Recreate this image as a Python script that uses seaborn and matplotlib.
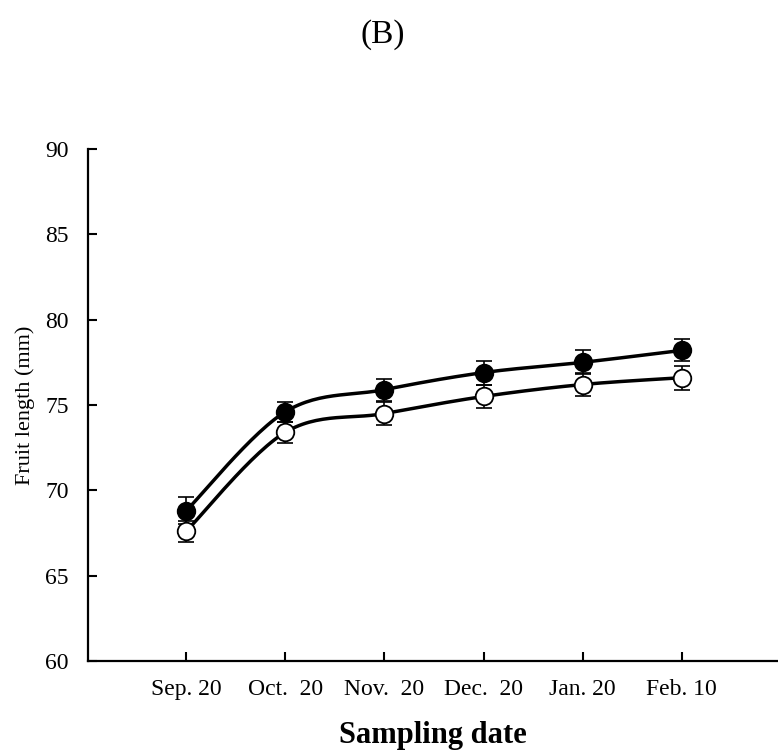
import numpy as np
import pandas as pd
import matplotlib
matplotlib.use("Agg")
import matplotlib.pyplot as plt
import seaborn as sns

# Values
dates = ["Sep. 20", "Oct.  20", "Nov.  20", "Dec.  20", "Jan. 20", "Feb. 10"]
filled_mean = [68.8, 74.6, 75.9, 76.9, 77.5, 78.2]
filled_err = [0.8, 0.6, 0.65, 0.7, 0.7, 0.65]
open_mean = [67.6, 73.4, 74.5, 75.5, 76.2, 76.6]
open_err = [0.6, 0.6, 0.65, 0.65, 0.65, 0.7]


def smooth_curve(y, steps=30):
    # Catmull-Rom style bezier through the points (like a spreadsheet "smoothed line")
    x = np.arange(len(y), dtype=float)
    y = np.asarray(y, dtype=float)
    px = np.concatenate([[x[0]], x, [x[-1]]])
    py = np.concatenate([[y[0]], y, [y[-1]]])
    xs, ys = [], []
    t = np.linspace(0, 1, steps)
    for i in range(1, len(px) - 2):
        p0 = np.array([px[i], py[i]])
        p3 = np.array([px[i + 1], py[i + 1]])
        p1 = p0 + (p3 - np.array([px[i - 1], py[i - 1]])) / 6
        p2 = p3 - (np.array([px[i + 2], py[i + 2]]) - p0) / 6
        b = ((1 - t) ** 3)[:, None] * p0 + (3 * (1 - t) ** 2 * t)[:, None] * p1 \
            + (3 * (1 - t) * t ** 2)[:, None] * p2 + (t ** 3)[:, None] * p3
        xs.extend(b[:, 0])
        ys.extend(b[:, 1])
    return np.array(xs), np.array(ys)


sns.set_style("white")
plt.rcParams["font.family"] = ["Liberation Serif", "DejaVu Serif"]
plt.rcParams["text.color"] = "black"
plt.rcParams["axes.labelcolor"] = "black"
plt.rcParams["xtick.color"] = "black"
plt.rcParams["ytick.color"] = "black"

fig = plt.figure(figsize=(7.78, 7.56), dpi=100)
ax = fig.add_axes([88 / 778, 1 - 661 / 756, (777 - 88) / 778, (661 - 149) / 756])

xpos = np.arange(len(dates))
for means, errs, face in [(filled_mean, filled_err, "black"), (open_mean, open_err, "white")]:
    sx, sy = smooth_curve(means)
    line_df = pd.DataFrame({"x": sx, "y": sy})
    sns.lineplot(data=line_df, x="x", y="y", color="black", linewidth=2.5,
                 sort=False, ax=ax, zorder=2)
    ax.errorbar(xpos, means, yerr=errs, fmt="none", ecolor="black",
                elinewidth=1.2, capsize=5.5, capthick=1.2, zorder=3)
    pts = pd.DataFrame({"x": xpos, "y": means})
    sns.scatterplot(data=pts, x="x", y="y", s=160, color=face, edgecolor="black",
                    linewidth=1.3, ax=ax, zorder=4)

ax.set_xlim(-0.99, 5.96)
ax.set_ylim(60, 90)
ax.set_yticks([60, 65, 70, 75, 80, 85, 90])
ax.set_xticks(xpos)
ax.set_xticklabels(dates)

for side in ["top", "right"]:
    ax.spines[side].set_visible(False)
for side in ["left", "bottom"]:
    ax.spines[side].set_linewidth(1.6)
    ax.spines[side].set_color("black")

ax.tick_params(axis="both", direction="in", length=6.5, width=1.5, colors="black",
               labelsize=17)
ax.tick_params(axis="y", pad=14, left=True)
ax.tick_params(axis="x", pad=13, bottom=True)

ax.set_ylabel("Fruit length (mm)", fontsize=16, labelpad=7)
ax.set_xlabel("Sampling date", fontsize=22, fontweight="bold", labelpad=15)

fig.text(383 / 778, 1 - 35 / 756, "(B)", fontsize=24, ha="center", va="center")

fig.savefig("out.png", dpi=100)
plt.close(fig)
